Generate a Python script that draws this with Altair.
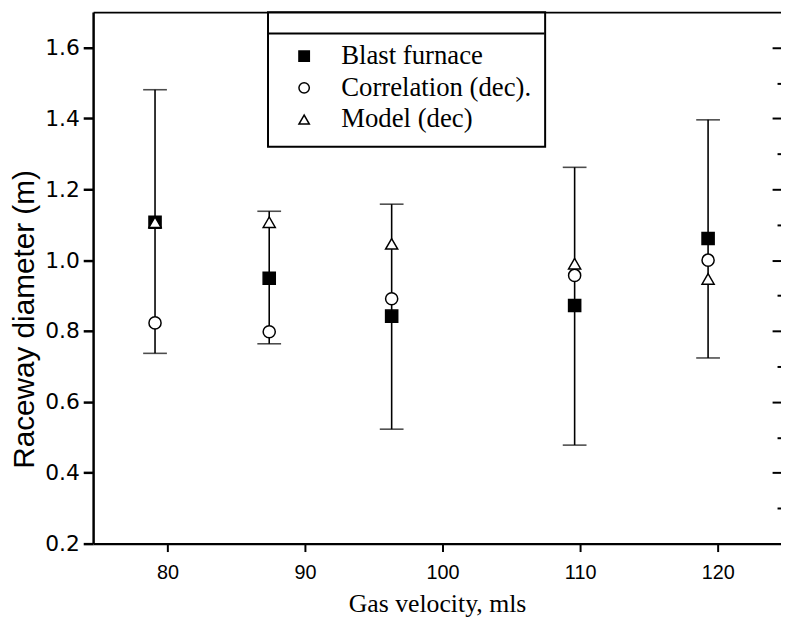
import altair as alt
import pandas as pd

# ---- data ----
velocity = [79.1, 87.4, 96.3, 109.6, 119.3]
blast_furnace = [1.107, 0.949, 0.842, 0.872, 1.061]
correlation = [0.823, 0.798, 0.891, 0.957, 1.000]
model = [1.107, 1.107, 1.046, 0.990, 0.947]
err_low = [0.737, 0.764, 0.523, 0.478, 0.724]
err_high = [1.481, 1.138, 1.158, 1.262, 1.396]

series_names = ["Blast furnace", "Correlation (dec).", "Model (dec)"]
x_ticks = [80, 90, 100, 110, 120]
y_ticks = [0.2, 0.4, 0.6, 0.8, 1.0, 1.2, 1.4, 1.6]
right_major = [0.4, 0.6, 0.8, 1.0, 1.2, 1.4, 1.6]
right_minor = [0.3, 0.5, 0.7, 0.9, 1.1, 1.3, 1.5]

df_err = pd.DataFrame({"x": velocity, "low": err_low, "high": err_high})
rows = []
for name, vals in zip(series_names, [blast_furnace, correlation, model]):
    for xv, v in zip(velocity, vals):
        rows.append({"x": xv, "value": v, "series": name})
df_pts = pd.DataFrame(rows)

xs = alt.Scale(domain=[74.6, 124.6], nice=False, zero=False)
ys = alt.Scale(domain=[0.2, 1.7], nice=False, zero=False)

x_axis = alt.Axis(values=x_ticks, title="Gas velocity, mls", grid=False, domain=True,
                  domainColor="black", domainWidth=2.5,
                  tickSize=8, tickWidth=2, tickColor="black",
                  labelFont="Liberation Sans", labelFontSize=20, labelColor="black",
                  labelPadding=11, titleFont="Liberation Serif", titleFontSize=26,
                  titleFontWeight="normal", titleColor="black", titlePadding=9)
top_axis = alt.Axis(orient="top", domain=True, domainColor="black", domainWidth=2,
                    ticks=False, labels=False, title=None, grid=False)
left_axis = alt.Axis(values=y_ticks, format=".1f", title="Raceway diameter (m)", grid=False,
                     domain=True, domainColor="black", domainWidth=2.5,
                     tickSize=10, tickWidth=2.5, tickColor="black",
                     labelFont="DejaVu Sans", labelFontSize=22, labelColor="black",
                     labelPadding=4, titleFont="Liberation Sans", titleFontSize=30,
                     titleFontWeight="normal", titleColor="black", titlePadding=5,
                     titleY=310)

x_main = alt.X("x:Q", scale=xs, axis=x_axis)
x_plain = alt.X("x:Q", scale=xs, axis=None)

err = alt.Chart(df_err).mark_rule(color="black", strokeWidth=1.6).encode(
    x=x_main, y=alt.Y("low:Q", scale=ys, axis=left_axis), y2="high:Q")
cap_lo = alt.Chart(df_err).mark_tick(orient="horizontal", size=24, thickness=1.6, color="black").encode(
    x=x_plain, y=alt.Y("low:Q", scale=ys, axis=None))
cap_hi = alt.Chart(df_err).mark_tick(orient="horizontal", size=24, thickness=1.6, color="black").encode(
    x=x_plain, y=alt.Y("high:Q", scale=ys, axis=None))

leg = alt.Legend(title=" ", orient="none", legendX=176.7, legendY=0, strokeColor="black",
                 padding=14, symbolOffset=9, labelOffset=24, labelFont="Liberation Serif",
                 labelFontSize=27, labelColor="black", labelLimit=400, symbolSize=110,
                 symbolStrokeWidth=1.5, symbolStrokeColor="black", rowPadding=4,
                 titleFontSize=14, titlePadding=3)

pts = alt.Chart(df_pts).mark_point(filled=False, size=150, color="black",
                                   strokeWidth=1.5, opacity=1).encode(
    x=x_plain,
    y=alt.Y("value:Q", scale=ys, axis=None),
    shape=alt.Shape("series:N", sort=series_names,
                    scale=alt.Scale(domain=series_names, range=["square", "circle", "triangle-up"]),
                    legend=leg),
    fill=alt.Fill("series:N", sort=series_names,
                  scale=alt.Scale(domain=series_names, range=["black", "white", "white"]),
                  legend=leg),
    stroke=alt.Stroke("series:N", sort=series_names,
                      scale=alt.Scale(domain=series_names, range=["black", "black", "black"]),
                      legend=leg),
)

r_major = alt.Chart(df_err).mark_point(opacity=0).encode(
    x=alt.X("x:Q", scale=xs, axis=top_axis),
    y=alt.Y("high:Q", scale=ys, axis=alt.Axis(orient="right", values=right_major, tickSize=9,
                                             offset=-9, labels=False, domain=False, title=None,
                                             grid=False, tickWidth=2, tickColor="black")))
r_minor = alt.Chart(df_err).mark_point(opacity=0).encode(
    x=x_plain,
    y=alt.Y("low:Q", scale=ys, axis=alt.Axis(orient="right", values=right_minor, tickSize=4,
                                            offset=-4, labels=False, domain=False, title=None,
                                            grid=False, tickWidth=2, tickColor="black")))

sep = alt.Chart(pd.DataFrame({"a": [0]})).mark_rule(color="black", strokeWidth=2).encode(
    x=alt.value(176.7), x2=alt.value(456), y=alt.value(21.7))

chart = alt.layer(err, cap_lo, cap_hi, pts, r_major, r_minor, sep).resolve_scale(
    x="shared", y="shared").resolve_axis(x="independent", y="independent").properties(
    width=695, height=537,
    autosize=alt.AutoSizeParams(type="none"),
    padding={"left": 86, "top": 1, "right": 0, "bottom": 75},
).configure_view(strokeWidth=0).configure_legend(strokeWidth=2)

chart.save("out.html", embed_options={"renderer": "svg", "actions": False})
